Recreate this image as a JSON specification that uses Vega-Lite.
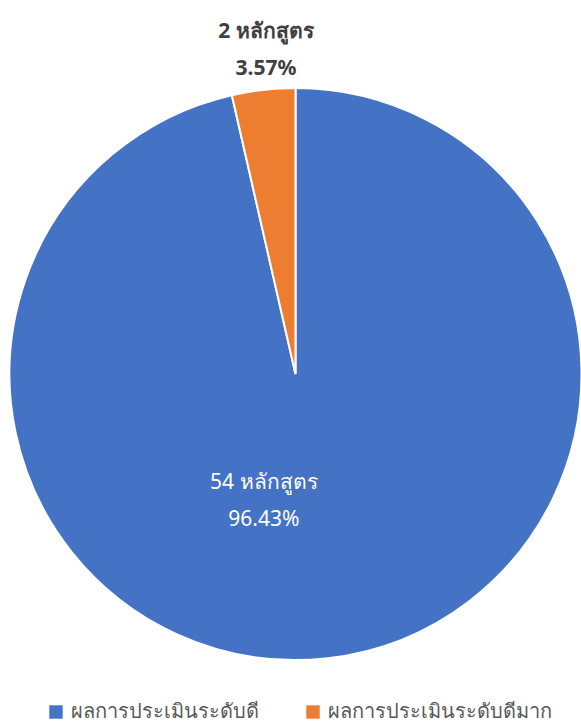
{
  "$schema": "https://vega.github.io/schema/vega-lite/v6.json",
  "autosize": {"type": "none"},
  "width": 571,
  "height": 574,
  "padding": {"left": 10, "top": 87, "right": 0, "bottom": 63},
  "background": "white",
  "config": {"view": {"stroke": null}, "font": "Noto Sans"},
  "data": {
    "values": [
      {"category": "ผลการประเมินระดับดี", "value": 54, "label": "54 หลักสูตร\n96.43%"},
      {"category": "ผลการประเมินระดับดีมาก", "value": 2, "label": "2 หลักสูตร\n3.57%"}
    ]
  },
  "encoding": {
    "theta": {"field": "value", "type": "quantitative", "stack": true},
    "order": {"field": "value", "type": "quantitative", "sort": "descending"}
  },
  "layer": [
    {
      "mark": {"type": "arc", "outerRadius": 286, "stroke": "white", "strokeWidth": 2},
      "encoding": {
        "color": {
          "field": "category",
          "type": "nominal",
          "scale": {"domain": ["ผลการประเมินระดับดี", "ผลการประเมินระดับดีมาก"], "range": ["#4472C4", "#ED7D31"]},
          "legend": {
            "title": null,
            "orient": "none",
            "direction": "horizontal",
            "legendX": 36,
            "legendY": 615,
            "symbolType": "square",
            "symbolSize": 180,
            "symbolStrokeWidth": 0,
            "labelFontSize": 20,
            "labelColor": "#595959",
            "labelOffset": 5,
            "columnPadding": 44,
            "labelLimit": 400
          }
        }
      }
    },
    {
      "mark": {"type": "text", "radius": 344, "fontSize": 21, "fontWeight": "bold", "color": "#404040", "lineBreak": "\n", "lineHeight": 37, "baseline": "middle", "dx": 9},
      "encoding": {
        "text": {"condition": {"test": "datum.value == 2", "field": "label"}, "value": ""}
      }
    },
    {
      "mark": {"type": "text", "radius": 110, "fontSize": 21, "color": "white", "lineBreak": "\n", "lineHeight": 37, "baseline": "middle", "dx": -44},
      "encoding": {
        "text": {"condition": {"test": "datum.value == 54", "field": "label"}, "value": ""}
      }
    }
  ]
}
